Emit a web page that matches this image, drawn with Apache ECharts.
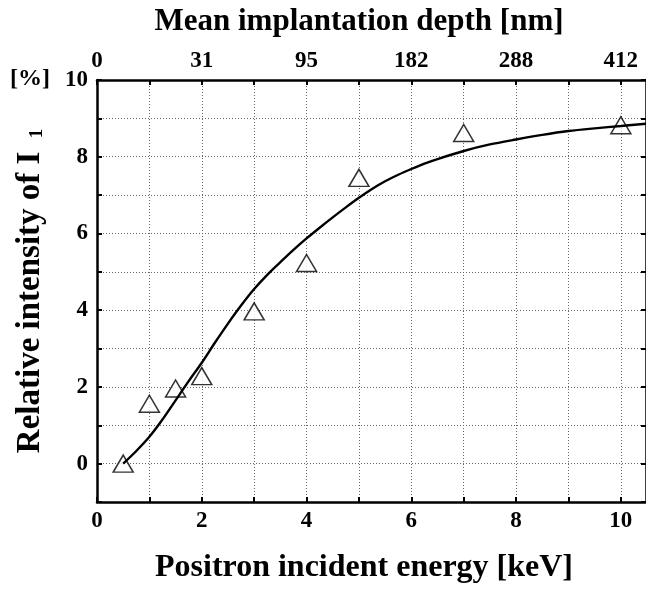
<!DOCTYPE html>
<html>
<head>
<meta charset="utf-8">
<script src="https://cdn.jsdelivr.net/npm/echarts@6/dist/echarts.min.js"></script>
<style>
html,body{margin:0;padding:0;background:#fff;}
#chart{width:646px;height:589px;}
</style>
</head>
<body>
<div id="chart"></div>
<script>
// Measured points: positron energy [keV] and relative intensity of I1 [%]
const energy = [0.5, 1.0, 1.5, 2.0, 3.0, 4.0, 5.0, 7.0, 10.0];
const intensity = [0.0, 1.56, 1.96, 2.28, 3.97, 5.23, 7.45, 8.62, 8.82];

// Fitted curve
const fitEnergy = [0.5, 0.75, 1.0, 1.25, 1.5, 1.75, 2.0, 2.25, 2.5, 2.75, 3.0, 3.25, 3.5, 3.75, 4.0, 4.25, 4.5, 4.75, 5.0, 5.25, 5.5, 5.75, 6.0, 6.25, 6.5, 7.0, 7.5, 8.0, 8.5, 9.0, 9.5, 10.0, 10.48];
const fitIntensity = [0.0, 0.33, 0.7, 1.15, 1.65, 2.15, 2.63, 3.15, 3.65, 4.12, 4.55, 4.92, 5.25, 5.57, 5.87, 6.15, 6.42, 6.68, 6.93, 7.16, 7.36, 7.53, 7.68, 7.82, 7.94, 8.15, 8.32, 8.45, 8.57, 8.67, 8.74, 8.8, 8.86];

// Top axis: mean implantation depth labels at energy 0,2,4,6,8,10
const depthTickEnergy = [0, 2, 4, 6, 8, 10];
const depthLabels = ['0', '31', '95', '182', '288', '412'];

const FONT = '"Liberation Serif", "DejaVu Serif", serif';
const labelStyle = {fontFamily: FONT, fontWeight: 'bold', fontSize: 23, color: '#000'};
const axisLineStyle = {color: '#000', width: 2.5};
const gridLine = {show: true, lineStyle: {color: '#666', width: 1, type: [1, 2]}};

const chart = echarts.init(document.getElementById('chart'), null, {renderer: 'canvas'});
chart.setOption({
  animation: false,
  backgroundColor: '#fff',
  title: [
    {text: 'Mean implantation depth [nm]', left: 354, top: 1, textAlign: 'center',
     textStyle: {fontFamily: FONT, fontWeight: 'bold', fontSize: 31, color: '#000'}},
    {text: 'Positron incident energy [keV]', left: 359, top: 547, textAlign: 'center',
     textStyle: {fontFamily: FONT, fontWeight: 'bold', fontSize: 32, color: '#000'}},
    {text: '[%]', left: 5, top: 62,
     textStyle: {fontFamily: FONT, fontWeight: 'bold', fontSize: 24, color: '#000'}}
  ],
  grid: {left: 97, right: -2, top: 80, bottom: 87, containLabel: false},
  xAxis: [
    {
      type: 'value', position: 'bottom', min: 0, max: 10.48, interval: 1,
      axisLine: {show: true, onZero: false, lineStyle: axisLineStyle},
      axisTick: {show: true, inside: true, length: 5, lineStyle: {color: '#000', width: 2}},
      axisLabel: {...labelStyle, margin: 8, showMaxLabel: false,
        formatter: v => (Math.round(v) % 2 === 0 ? String(Math.round(v)) : '')},
      splitLine: gridLine
    },
    {
      type: 'value', position: 'top', min: 0, max: 10.48, interval: 1,
      axisLine: {show: true, onZero: false, lineStyle: axisLineStyle},
      axisTick: {show: true, inside: true, length: 5, lineStyle: {color: '#000', width: 2}},
      axisLabel: {...labelStyle, margin: 7, showMaxLabel: false,
        formatter: v => {
          const i = depthTickEnergy.indexOf(Math.round(v));
          return i >= 0 ? depthLabels[i] : '';
        }},
      splitLine: {show: false}
    }
  ],
  yAxis: [
    {
      type: 'value', position: 'left', min: -1, max: 10, interval: 1,
      axisLine: {show: true, onZero: false, lineStyle: axisLineStyle},
      axisTick: {show: true, inside: true, length: 5, lineStyle: {color: '#000', width: 2}},
      axisLabel: {...labelStyle, margin: 9,
        formatter: v => (v >= 0 && v % 2 === 0 ? String(v) : '')},
      splitLine: gridLine,
      name: '{a|Relative intensity of I }{s|1}',
      nameLocation: 'middle', nameRotate: 90, nameGap: 50,
      nameTextStyle: {
        rich: {
          a: {fontFamily: FONT, fontWeight: 'bold', fontSize: 33, color: '#000', lineHeight: 38, verticalAlign: 'bottom'},
          s: {fontFamily: FONT, fontWeight: 'bold', fontSize: 19, color: '#000', lineHeight: 38, verticalAlign: 'bottom', padding: [0, 0, 0, 5]}
        }
      }
    },
    {
      type: 'value', position: 'right', min: -1, max: 10, interval: 1,
      axisLine: {show: true, onZero: false, lineStyle: axisLineStyle},
      axisTick: {show: true, inside: true, length: 5, lineStyle: {color: '#000', width: 2}},
      axisLabel: {show: false},
      splitLine: {show: false}
    }
  ],
  series: [
    {
      type: 'line', xAxisIndex: 0, yAxisIndex: 0, z: 3,
      data: fitEnergy.map((x, i) => [x, fitIntensity[i]]),
      smooth: 0.3, showSymbol: false, symbol: 'none',
      lineStyle: {color: '#000', width: 2.4}
    },
    {
      type: 'scatter', xAxisIndex: 0, yAxisIndex: 0, z: 2,
      data: energy.map((x, i) => [x, intensity[i]]),
      symbol: 'triangle', symbolSize: [20, 17],
      itemStyle: {color: '#fff', borderColor: '#000', borderWidth: 1.5}
    }
  ]
});
</script>
</body>
</html>
